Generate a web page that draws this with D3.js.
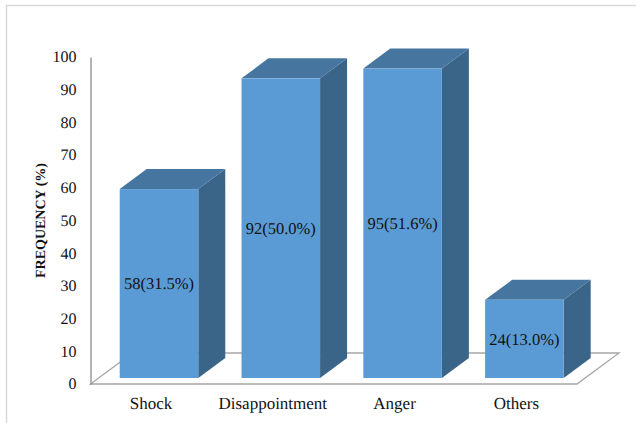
<!DOCTYPE html>
<html>
<head>
<meta charset="utf-8">
<script src="https://cdn.jsdelivr.net/npm/d3@7"></script>
<style>
  html, body { margin: 0; padding: 0; background: #fff; }
  text { font-family: "Liberation Serif", serif; fill: #111; text-rendering: geometricPrecision; }
</style>
</head>
<body>
<div id="myVis"></div>
<script>
const categories = ["Shock", "Disappointment", "Anger", "Others"];
const frequency = [58, 92, 95, 24];
const barLabels = ["58(31.5%)", "92(50.0%)", "95(51.6%)", "24(13.0%)"];
const yTicks = [0, 10, 20, 30, 40, 50, 60, 70, 80, 90, 100];

const width = 636, height = 423;
const axisX = 90.5, floorY = 384;
// depth of the fake 3d box
const barDepth = { x: 27, y: -20 };
const floorDepth = { x: 42, y: -31 };

const svg = d3.select("#myVis")
    .append("svg")
    .attr("width", width)
    .attr("height", height)
    .style("display", "block");

// picture frame, only top and left show
svg.append("path")
    .attr("d", "M6.5," + height + "V5.5H" + width)
    .attr("fill", "none")
    .attr("stroke", "#d9d9d9")
    .attr("stroke-width", 1.5);

const xScale = d3.scaleBand()
    .domain(categories)
    .range([98.1, 585.3])
    .paddingInner(0.355)
    .paddingOuter(0.1775);

// axis runs on the wall, bars stand a little forward on the floor
const yAxisScale = d3.scaleLinear().domain([0, 100]).range([floorY, 57]);
const yBar = d3.scaleLinear().domain([0, 100]).range([378, 52.3]);

// floor
const floorRight = 577;
svg.append("path")
    .attr("d", d3.line()([
        [axisX, floorY],
        [floorRight, floorY],
        [floorRight + floorDepth.x, floorY + floorDepth.y],
        [axisX + floorDepth.x, floorY + floorDepth.y]
    ]) + "Z")
    .attr("fill", "#fff")
    .attr("stroke", "#a6a6a6")
    .attr("stroke-width", 1.3);

// y axis
const yAxis = svg.append("g")
    .attr("transform", "translate(" + axisX + ",0)")
    .call(d3.axisLeft(yAxisScale).tickValues(yTicks).tickSize(0).tickPadding(14));
yAxis.select(".domain").attr("stroke", "#8c8c8c").attr("stroke-width", 1.3);
yAxis.selectAll("text")
    .style("font-size", "16px")
    .style("font-family", "'Liberation Serif', serif")
    .attr("dy", "0.3em");

// y axis title
svg.append("text")
    .attr("transform", "translate(44.5,220.5) rotate(-90)")
    .attr("text-anchor", "middle")
    .style("font-size", "14px")
    .style("font-weight", "bold")
    .text("FREQUENCY (%)");

// bars
const bars = svg.selectAll(".bar")
    .data(frequency)
    .enter()
    .append("g")
    .attr("class", "bar");

const barLeft = (d, i) => xScale(categories[i]);
const barRight = (d, i) => xScale(categories[i]) + xScale.bandwidth();

// side face
bars.append("path")
    .attr("fill", "#3a6488")
    .attr("d", (d, i) => d3.line()([
        [barRight(d, i), yBar(0)],
        [barRight(d, i) + barDepth.x, yBar(0) + barDepth.y],
        [barRight(d, i) + barDepth.x, yBar(d) + barDepth.y],
        [barRight(d, i), yBar(d)]
    ]) + "Z");

// top face
bars.append("path")
    .attr("fill", "#46759f")
    .attr("d", (d, i) => d3.line()([
        [barLeft(d, i), yBar(d)],
        [barLeft(d, i) + barDepth.x, yBar(d) + barDepth.y],
        [barRight(d, i) + barDepth.x, yBar(d) + barDepth.y],
        [barRight(d, i), yBar(d)]
    ]) + "Z");

// front face
bars.append("rect")
    .attr("x", (d, i) => barLeft(d, i))
    .attr("y", d => yBar(d))
    .attr("width", xScale.bandwidth())
    .attr("height", d => yBar(0) - yBar(d))
    .attr("fill", "#5b9bd5");

// value labels
bars.append("text")
    .attr("x", (d, i) => barLeft(d, i) + xScale.bandwidth() / 2)
    .attr("y", d => (yBar(d) + yBar(0)) / 2)
    .attr("dy", "0.36em")
    .attr("text-anchor", "middle")
    .style("font-size", "16.5px")
    .text((d, i) => barLabels[i]);

// category labels
svg.selectAll(".cat")
    .data(categories)
    .enter()
    .append("text")
    .attr("class", "cat")
    .attr("x", d => xScale(d) + xScale.bandwidth() / 2 - 8)
    .attr("y", 409)
    .attr("text-anchor", "middle")
    .style("font-size", "17px")
    .text(d => d);
</script>
</body>
</html>
